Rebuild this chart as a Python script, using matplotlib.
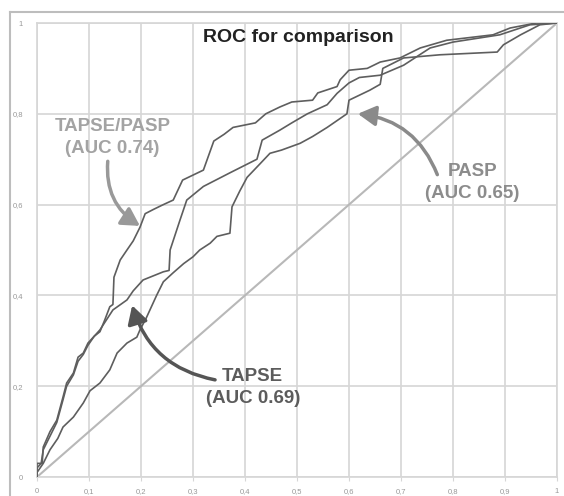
import matplotlib
matplotlib.use("Agg")
from matplotlib import pyplot as plt
from matplotlib.lines import Line2D

plt.rcParams['font.family'] = ['Liberation Sans', 'DejaVu Sans']

# ROC points (1 - specificity, sensitivity) for each parameter
tapse_pasp_x = [0, 0, 0.01, 0.012, 0.025, 0.038, 0.05, 0.057, 0.07, 0.079, 0.089, 0.098, 0.11, 0.121,
                0.13, 0.14, 0.146, 0.148, 0.16, 0.173, 0.185, 0.198, 0.208, 0.225, 0.243, 0.262, 0.28, 0.30,
                0.32, 0.34, 0.36, 0.377, 0.42, 0.44, 0.467, 0.49, 0.53, 0.54, 0.577, 0.583, 0.60,
                0.635, 0.66, 0.698, 0.737, 0.788, 0.877, 0.91, 0.96, 1.0]
tapse_pasp_y = [0, 0.03, 0.03, 0.066, 0.10, 0.125, 0.176, 0.207, 0.229, 0.264, 0.273, 0.295, 0.31, 0.32,
                0.345, 0.375, 0.38, 0.44, 0.478, 0.50, 0.52, 0.55, 0.58, 0.59, 0.60, 0.61, 0.654, 0.665,
                0.676, 0.74, 0.755, 0.77, 0.78, 0.80, 0.815, 0.826, 0.83, 0.846, 0.86, 0.875, 0.896,
                0.90, 0.914, 0.923, 0.945, 0.962, 0.974, 0.989, 1.0, 1.0]

tapse_x = [0, 0, 0.008, 0.012, 0.025, 0.038, 0.05, 0.057, 0.07, 0.079, 0.089, 0.098, 0.11, 0.121,
           0.146, 0.173, 0.185, 0.204, 0.243, 0.254, 0.256, 0.275, 0.288, 0.32, 0.371, 0.423, 0.433, 0.467,
           0.49, 0.52, 0.558, 0.577, 0.60, 0.62, 0.66, 0.705, 0.756, 0.80, 0.89, 0.948, 1.0]
tapse_y = [0, 0.02, 0.03, 0.06, 0.09, 0.12, 0.17, 0.20, 0.225, 0.255, 0.27, 0.29, 0.31, 0.324,
           0.368, 0.39, 0.41, 0.434, 0.452, 0.455, 0.50, 0.566, 0.61, 0.64, 0.67, 0.70, 0.742, 0.764,
           0.78, 0.80, 0.82, 0.845, 0.868, 0.88, 0.885, 0.907, 0.945, 0.958, 0.974, 0.996, 1.0]

pasp_x = [0, 0, 0.012, 0.025, 0.04, 0.05, 0.07, 0.089, 0.102, 0.121, 0.14, 0.154, 0.173, 0.192,
          0.198, 0.21, 0.23, 0.243, 0.262, 0.282, 0.30, 0.313, 0.333, 0.346, 0.371, 0.375, 0.39,
          0.404, 0.429, 0.448, 0.47, 0.506, 0.53, 0.558, 0.596, 0.60, 0.64, 0.66, 0.665, 0.705,
          0.775, 0.885, 0.897, 0.93, 0.967, 1.0]
pasp_y = [0, 0.01, 0.03, 0.06, 0.085, 0.11, 0.132, 0.163, 0.19, 0.207, 0.236, 0.273, 0.295, 0.308,
          0.324, 0.35, 0.40, 0.43, 0.45, 0.47, 0.485, 0.50, 0.515, 0.53, 0.537, 0.595, 0.63,
          0.66, 0.69, 0.713, 0.72, 0.735, 0.75, 0.77, 0.80, 0.83, 0.852, 0.865, 0.90, 0.923,
          0.93, 0.936, 0.952, 0.974, 0.996, 1.0]

ticks = [0, 0.1, 0.2, 0.3, 0.4, 0.5, 0.6, 0.7, 0.8, 0.9, 1]
x_labels = ['0', '0,1', '0,2', '0,3', '0,4', '0,5', '0,6', '0,7', '0,8', '0,9', '1']
y_ticks = [0, 0.2, 0.4, 0.6, 0.8, 1]
y_labels = ['0', '0,2', '0,4', '0,6', '0,8', '1']

grid_col = '#d6d6d6'
curve_col = '#5e5e5e'

fig = plt.figure(figsize=(5.64, 4.96), dpi=100)
ax = fig.add_axes([37 / 564, 1 - 477 / 496, 520 / 564, 454 / 496])

ax.plot([0, 1], [0, 1], color='#b8b8b8', lw=1.5, zorder=2)
ax.plot(pasp_x, pasp_y, color=curve_col, lw=1.2, zorder=3)
ax.plot(tapse_x, tapse_y, color=curve_col, lw=1.2, zorder=3)
ax.plot(tapse_pasp_x, tapse_pasp_y, color=curve_col, lw=1.2, zorder=3)

ax.set_xlim(0, 1)
ax.set_ylim(0, 1)
ax.set_xticks(ticks)
ax.set_xticklabels(x_labels)
ax.set_yticks(y_ticks)
ax.set_yticklabels(y_labels)
ax.grid(True, color=grid_col, lw=1.2, zorder=0)
ax.set_axisbelow(True)
for s in ax.spines.values():
    s.set_color(grid_col)
    s.set_linewidth(1.2)
ax.tick_params(axis='x', length=3, color=grid_col, labelsize=5.5, labelcolor='#999999', pad=5)
ax.tick_params(axis='y', length=0, labelsize=5.5, labelcolor='#999999', pad=10)

ax.text(0.502, 0.969, 'ROC for comparison', ha='center', va='center',
        fontsize=14, fontweight='bold', color='#222222')

# labels with curved arrows (patchA=None so the arrow starts at relpos)
head = '-|>,head_length=0.8,head_width=0.45'
ax.annotate('TAPSE/PASP\n(AUC 0.74)', xy=(0.198, 0.553), xytext=(0.145, 0.748),
            ha='center', va='center', fontsize=13.5, fontweight='bold', color='#a3a3a3',
            linespacing=1.35,
            arrowprops=dict(arrowstyle=head, color='#999999', lw=2.5, patchA=None,
                            connectionstyle='arc3,rad=0.3', shrinkA=0, shrinkB=0,
                            relpos=(0.46, -0.12)))
ax.annotate('PASP\n(AUC 0.65)', xy=(0.617, 0.80), xytext=(0.837, 0.649),
            ha='center', va='center', fontsize=13.5, fontweight='bold', color='#8c8c8c',
            linespacing=1.35,
            arrowprops=dict(arrowstyle=head, color='#8a8a8a', lw=2.5, patchA=None,
                            connectionstyle='arc3,rad=0.3', shrinkA=0, shrinkB=0,
                            relpos=(0.13, 0.7)))
ax.annotate('TAPSE\n(AUC 0.69)', xy=(0.183, 0.378), xytext=(0.415, 0.197),
            ha='center', va='center', fontsize=13.5, fontweight='bold', color='#5c5c5c',
            linespacing=1.35,
            arrowprops=dict(arrowstyle=head, color='#555555', lw=2.5, patchA=None,
                            connectionstyle='arc3,rad=-0.3', shrinkA=0, shrinkB=0,
                            relpos=(0.1, 0.7)))

# outer frame on left and top
fig.add_artist(Line2D([10 / 564, 10 / 564], [0, 1 - 12 / 496], transform=fig.transFigure,
                      color='#bdbdbd', lw=1.5))
fig.add_artist(Line2D([10 / 564, 1], [1 - 12 / 496, 1 - 12 / 496], transform=fig.transFigure,
                      color='#bdbdbd', lw=1.5))

fig.savefig('out.png', dpi=100, facecolor='white')
